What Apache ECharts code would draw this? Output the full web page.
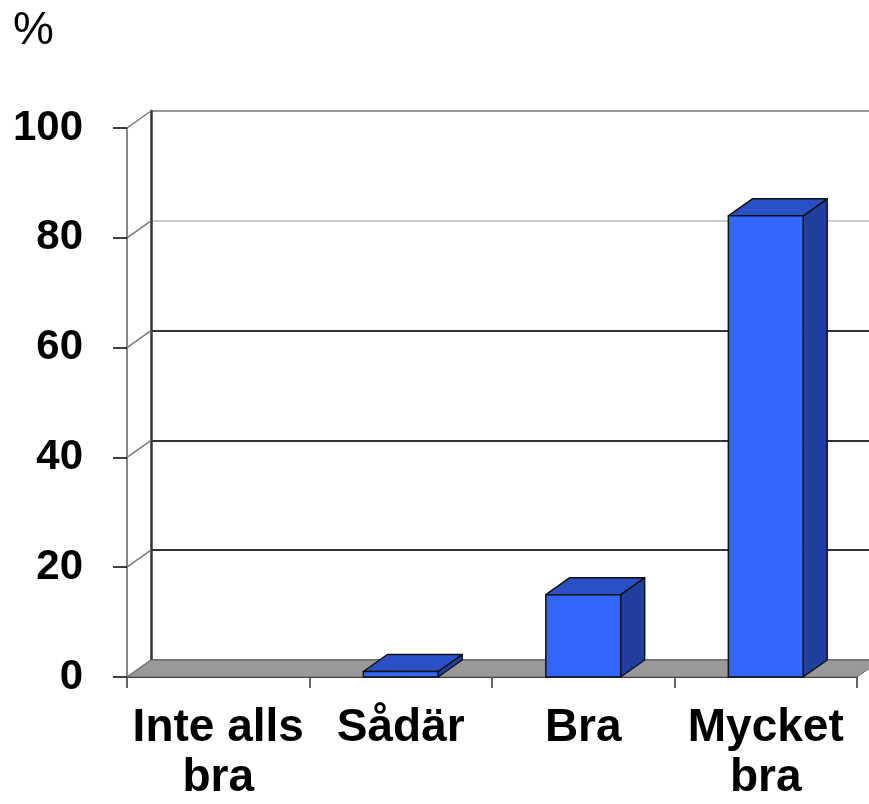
<!DOCTYPE html>
<html>
<head>
<meta charset="utf-8">
<style>
  html, body { margin: 0; padding: 0; background: #fff; }
  #chart { width: 869px; height: 804px; }
</style>
<script src="https://cdn.jsdelivr.net/npm/echarts@6/dist/echarts.min.js"></script>
</head>
<body>
<div id="chart"></div>
<script>
// data
var categories = ["Inte alls\nbra", "Sådär", "Bra", "Mycket\nbra"];
var values = [0, 1, 15, 84];
var yTicks = [0, 20, 40, 60, 80, 100];

// 3D look: depth offset of the back wall and the bars
var DX = 24, DY = -17;
var BAR_FRAC = 0.41;
var FONT = "'Liberation Sans', Arial, sans-serif";

var myChart = echarts.init(document.getElementById("chart"));

// bars: front, top and side faces
function renderBar(params, api) {
  var cat = api.value(0), v = api.value(1);
  if (!(v > 0)) return null;
  var top = api.coord([cat, v]);
  var base = api.coord([cat, 0]);
  var bw = api.size([1, 0])[0] * BAR_FRAC;
  var x0 = top[0] - bw / 2, x1 = top[0] + bw / 2;
  var yt = top[1], yb = base[1];
  var stroke = { stroke: "#111", lineWidth: 1.5, lineJoin: "round" };
  return {
    type: "group",
    children: [
      { type: "polygon", shape: { points: [[x1, yt], [x1 + DX, yt + DY], [x1 + DX, yb + DY], [x1, yb]] },
        style: Object.assign({ fill: "#2040a0" }, stroke) },
      { type: "polygon", shape: { points: [[x0, yt], [x0 + DX, yt + DY], [x1 + DX, yt + DY], [x1, yt]] },
        style: Object.assign({ fill: "#2a50c8" }, stroke) },
      { type: "polygon", shape: { points: [[x0, yt], [x1, yt], [x1, yb], [x0, yb]] },
        style: Object.assign({ fill: "#3366ff" }, stroke) }
    ]
  };
}

// gray floor under the bars
function renderFloor(params, api) {
  var cs = params.coordSys;
  var y = api.coord([0, 0])[1];
  var xl = cs.x, xr = cs.x + cs.width;
  return {
    type: "polygon",
    shape: { points: [[xl, y], [xl + DX, y + DY], [xr + DX, y + DY], [xr, y]] },
    style: { fill: "#999999", stroke: "#666", lineWidth: 1 }
  };
}

// side wall diagonals at each tick
function renderWall(params, api) {
  var cs = params.coordSys;
  var y = api.coord([0, api.value(0)])[1];
  return {
    type: "line",
    shape: { x1: cs.x, y1: y, x2: cs.x + DX, y2: y + DY },
    style: { stroke: "#777", lineWidth: 1.5 }
  };
}

var option = {
  animation: false,
  backgroundColor: "#fff",
  graphic: [
    { type: "text", left: 13, top: 8,
      style: { text: "%", font: "normal 46px " + FONT, fill: "#000" } }
  ],
  grid: [
    { left: 127, right: 12, top: 128, bottom: 127 },
    { left: 127 + DX, right: 12 - DX, top: 128 + DY, bottom: 127 - DY }
  ],
  xAxis: [
    {
      gridIndex: 0,
      type: "category",
      data: categories,
      axisLine: { show: true, lineStyle: { color: "#222", width: 2 } },
      axisTick: { show: true, length: 11, lineStyle: { color: "#333", width: 1.5 } },
      axisLabel: {
        interval: 0, margin: 26, color: "#000",
        fontFamily: FONT, fontWeight: "bold", fontSize: 46, lineHeight: 50
      },
      splitLine: { show: false }
    },
    {
      gridIndex: 1,
      type: "category",
      data: categories,
      show: false
    }
  ],
  yAxis: [
    {
      gridIndex: 0,
      type: "value",
      min: 0, max: 100, interval: 20,
      axisLine: { show: true, lineStyle: { color: "#888", width: 2 } },
      axisTick: { show: true, length: 14, lineStyle: { color: "#000", width: 1.5 } },
      axisLabel: {
        margin: 44, color: "#000",
        fontFamily: FONT, fontWeight: "bold", fontSize: 42
      },
      splitLine: { show: false }
    },
    {
      gridIndex: 1,
      type: "value",
      min: 0, max: 100, interval: 20,
      axisLine: { show: true, lineStyle: { color: "#333", width: 2.5 } },
      axisTick: { show: false },
      axisLabel: { show: false },
      splitLine: {
        show: true,
        lineStyle: { color: ["#777", "#333", "#333", "#333", "#cccccc", "#999"], width: 2 }
      }
    }
  ],
  series: [
    {
      type: "custom",
      name: "floor",
      xAxisIndex: 0, yAxisIndex: 0,
      renderItem: renderFloor,
      data: [[0, 0]],
      z: 3,
      silent: true
    },
    {
      type: "custom",
      name: "wall",
      xAxisIndex: 0, yAxisIndex: 0,
      renderItem: renderWall,
      data: yTicks.map(function (t) { return [t]; }),
      encode: { y: 0 },
      z: 3,
      silent: true
    },
    {
      type: "custom",
      name: "%",
      xAxisIndex: 0, yAxisIndex: 0,
      renderItem: renderBar,
      data: values.map(function (v, i) { return [i, v]; }),
      z: 5
    }
  ]
};

myChart.setOption(option);
</script>
</body>
</html>
